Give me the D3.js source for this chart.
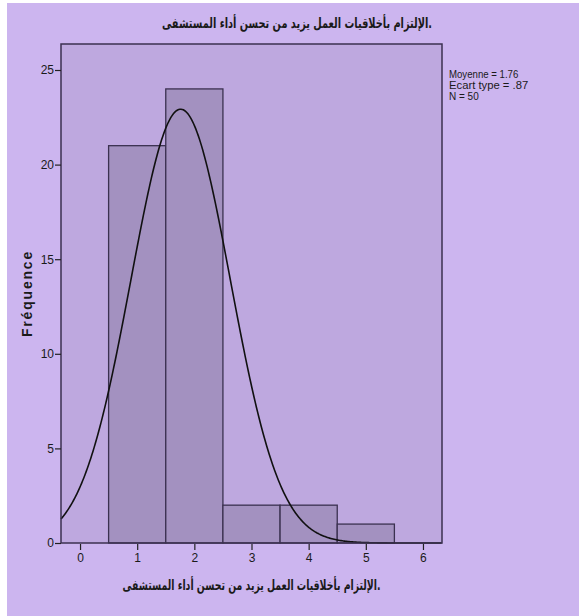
<!DOCTYPE html>
<html lang="fr">
	<head>
		<meta charset="utf-8">
		<title>Histogramme</title>
		<script type="text/javascript" src="https://d3js.org/d3.v7.min.js"></script>
		<style type="text/css">
		body{
                margin:0;
                background:#ffffff;
                }
		text{
                font-family:"Liberation Sans Narrow","Liberation Sans",Arial,sans-serif;
                fill:#1a1a1a;
                }
		</style>
	</head>
	<body>
        <div id="chart"></div>

	<script type="text/javascript">

    // data
    var categories = [1, 2, 3, 4, 5]
    var frequencies = [21, 24, 2, 2, 1]
    var xTicks = [0, 1, 2, 3, 4, 5, 6]
    var yTicks = [0, 5, 10, 15, 20, 25]
    var statsLines = ["Moyenne = 1.76", "Ecart type = .87", "N = 50"]
    var mean = 1.76
    var sd = 0.87
    var n = 50
    var titleText = ".الإلتزام بأخلاقيات العمل يزيد من تحسن أداء المستشفى"

    var w = 579
    var h = 616
    // plot frame (note: "top" is reserved on window, so use other names)
    var pLeft = 61, pRight = 442, pTop = 44, pBottom = 543

    var svg = d3.select("#chart")
        .append("svg")
        .attr("width", w)
        .attr("height", h)

    // lavender page, white strip left and top
    svg.append("rect")
        .attr("x", 7).attr("y", 3)
        .attr("width", w - 7).attr("height", h - 3)
        .attr("fill", "#ccb5ef")

    var xScale = d3.scaleLinear()
        .domain([-0.333, 6.333])
        .range([pLeft, pRight])
    var yScale = d3.scaleLinear()
        .domain([0, 25])
        .range([pBottom, 70])

    // plot area
    svg.append("rect")
        .attr("x", pLeft).attr("y", pTop)
        .attr("width", pRight - pLeft).attr("height", pBottom - pTop)
        .attr("fill", "#bea8df")

    // bars
    svg.selectAll("rect.bar")
        .data(categories)
        .enter()
        .append("rect")
        .attr("class", "bar")
        .attr("x", function(d){ return xScale(d - 0.5) })
        .attr("width", function(d){ return xScale(d + 0.5) - xScale(d - 0.5) })
        .attr("y", function(d, i){ return yScale(frequencies[i]) })
        .attr("height", function(d, i){ return yScale(0) - yScale(frequencies[i]) })
        .attr("fill", "#a391c0")
        .attr("stroke", "#3b3150")
        .attr("stroke-width", 1.3)

    // normal curve
    var pts = d3.range(-0.333, 6.34, 0.02)
    var line = d3.line()
        .x(function(d){ return xScale(d) })
        .y(function(d){
            var z = (d - mean) / sd
            return yScale(n * Math.exp(-0.5 * z * z) / (sd * Math.sqrt(2 * Math.PI)))
        })
    svg.append("path")
        .datum(pts)
        .attr("d", line)
        .attr("fill", "none")
        .attr("stroke", "#111111")
        .attr("stroke-width", 1.6)

    // frame
    svg.append("rect")
        .attr("x", pLeft).attr("y", pTop)
        .attr("width", pRight - pLeft).attr("height", pBottom - pTop)
        .attr("fill", "none")
        .attr("stroke", "#3b3150")
        .attr("stroke-width", 1.5)

    // axes
    var xAxis = d3.axisBottom(xScale)
        .tickValues(xTicks)
        .tickSize(6)
        .tickPadding(3)
        .tickFormat(d3.format("d"))
    var yAxis = d3.axisLeft(yScale)
        .tickValues(yTicks)
        .tickSize(6)
        .tickPadding(1)
        .tickFormat(d3.format("d"))

    var gx = svg.append("g")
        .attr("transform", "translate(0," + (pBottom + 1) + ")")
        .call(xAxis)
    var gy = svg.append("g")
        .attr("transform", "translate(" + pLeft + ",0)")
        .call(yAxis)
    gx.select(".domain").remove()
    gy.select(".domain").remove()
    svg.selectAll(".tick line").attr("stroke", "#222").attr("stroke-width", 1.2)
    svg.selectAll(".tick text").style("font-size", "12px").attr("fill", "#1a1a1a")

    // titles
    svg.append("text")
        .attr("x", 297).attr("y", 28)
        .attr("text-anchor", "middle")
        .style("font-family", "'DejaVu Sans', sans-serif")
        .style("font-size", "14px")
        .style("font-weight", "bold")
        .attr("direction", "rtl")
        .attr("textLength", 270)
        .attr("lengthAdjust", "spacingAndGlyphs")
        .text(titleText)

    svg.append("text")
        .attr("x", (pLeft + pRight) / 2).attr("y", 590)
        .attr("text-anchor", "middle")
        .style("font-family", "'DejaVu Sans', sans-serif")
        .style("font-size", "14px")
        .style("font-weight", "bold")
        .attr("direction", "rtl")
        .attr("textLength", 258)
        .attr("lengthAdjust", "spacingAndGlyphs")
        .text(titleText)

    svg.append("text")
        .attr("transform", "translate(32," + ((pTop + pBottom) / 2) + ") rotate(-90)")
        .attr("text-anchor", "middle")
        .style("font-family", "'Liberation Sans', Arial, sans-serif")
        .style("font-size", "14px")
        .style("font-weight", "bold")
        .style("letter-spacing", "1.8px")
        .text("Fréquence")

    // stats box
    svg.selectAll("text.stat")
        .data(statsLines)
        .enter()
        .append("text")
        .attr("class", "stat")
        .attr("x", 449)
        .attr("y", function(d, i){ return 78 + i * 11 })
        .style("font-size", "10.5px")
        .attr("textLength", function(d){ return d.length * 4.95 })
        .attr("lengthAdjust", "spacingAndGlyphs")
        .text(function(d){ return d })

		</script>
	</body>
</html>
